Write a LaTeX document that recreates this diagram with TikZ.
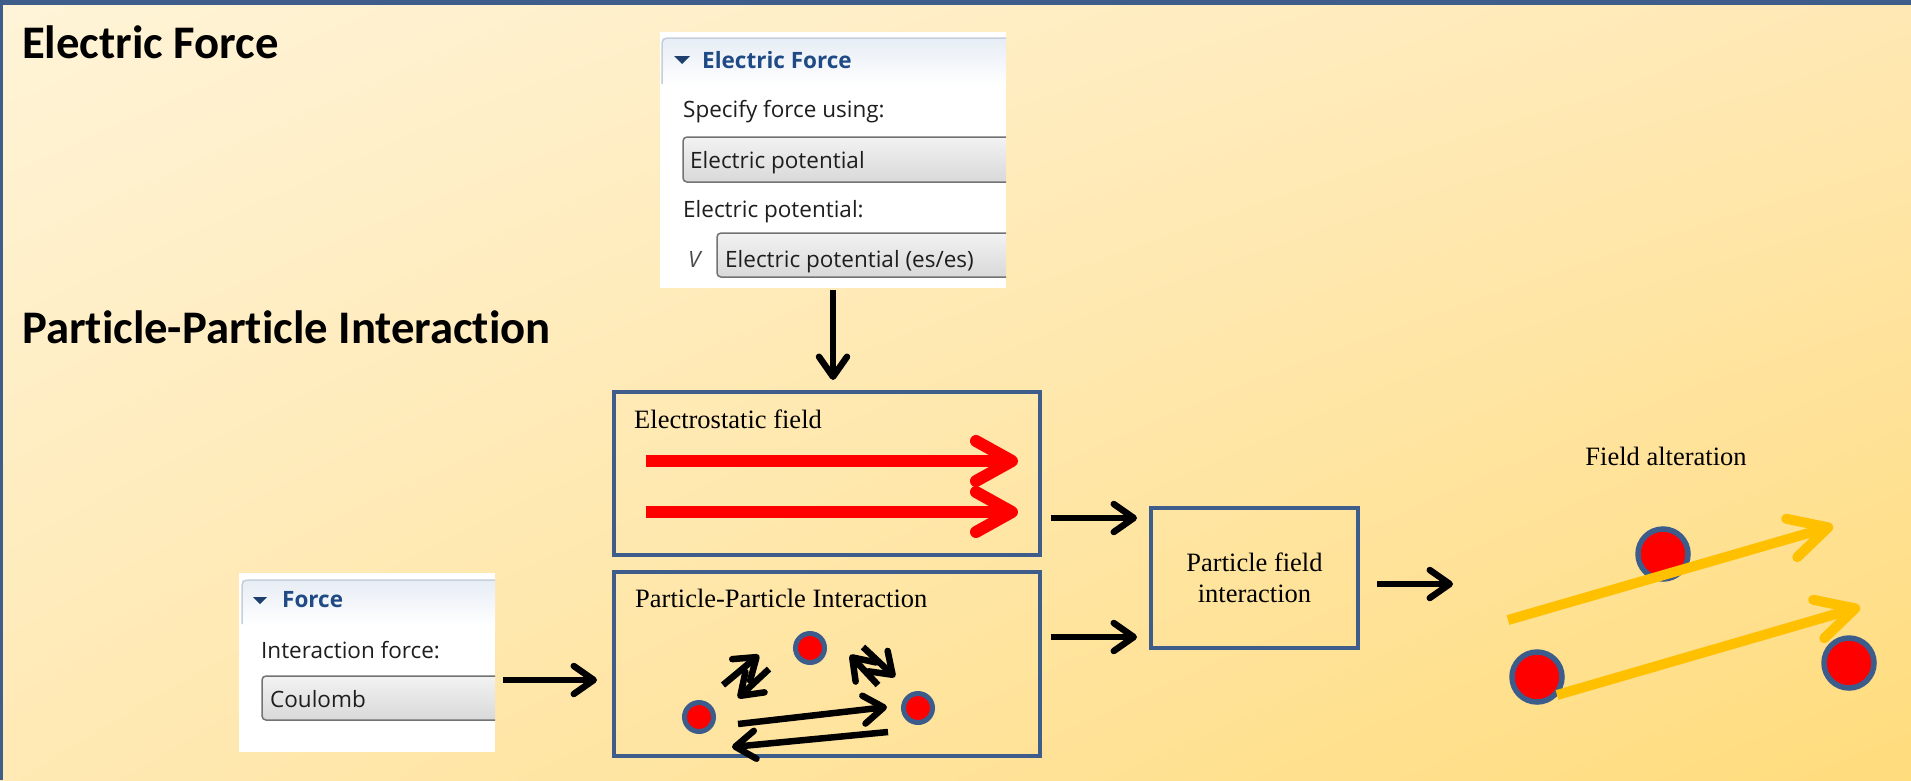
\documentclass[tikz,border=0pt]{standalone}
\usepackage{fontspec}
\setmainfont{Liberation Serif}
\newfontfamily\titlefont[Ligatures=NoCommon]{Carlito}
\newfontfamily\uifont{Open Sans}
\usetikzlibrary{arrows.meta, positioning, calc, shadings}

\definecolor{boxblue}{RGB}{62,93,138}
\definecolor{ringblue}{RGB}{60,92,140}
\definecolor{bgtl}{RGB}{255,244,216}
\definecolor{bgtr}{RGB}{255,232,180}
\definecolor{bgbl}{RGB}{255,233,180}
\definecolor{bgbr}{RGB}{255,220,124}
\definecolor{gold}{RGB}{255,192,0}
\definecolor{hdtop}{RGB}{231,237,245}
\definecolor{hdline}{RGB}{198,207,218}
\definecolor{hdtext}{RGB}{32,74,134}
\definecolor{hdtri}{RGB}{30,62,110}
\definecolor{uiblack}{RGB}{30,30,30}

\tikzset{
  titletext/.style={anchor=base west, inner sep=0, font={\titlefont\bfseries\fontsize{46.7}{56}\selectfont}},
  uipanel/.style={fill=white, inner sep=0, outer sep=0},
  uitext/.style={anchor=base west, inner sep=0, text=uiblack, font={\uifont\fontsize{22.5}{27}\selectfont}},
  uihead/.style={uitext, text=hdtext, font={\uifont\bfseries\fontsize{22.5}{27}\selectfont}},
  dropbox/.style={rounded corners=4, top color=white!95!black, bottom color=white!85!black, draw=black!55, line width=1.5},
  fieldbox/.style={draw=boxblue, line width=4, inner sep=0},
  boxtext/.style={anchor=base west, inner sep=0, font={\fontsize{26.5}{31}\selectfont}},
  particle/.style={circle, fill=red, draw=ringblue, line width=5, minimum size=29, inner sep=0},
  bigparticle/.style={particle, line width=5.5, minimum size=50},
  blkarrow/.style={line width=6.5, -{Straight Barb[length=20pt,width=28pt,round]}},
  redarrow/.style={draw=red, line width=12, -{Straight Barb[length=36pt,width=40pt,round]}},
  goldarrow/.style={draw=gold, line width=10, -{Straight Barb[length=38pt,width=40pt,round]}}
}

\begin{document}
\begin{tikzpicture}[x=1pt, y=-1pt]
    \useasboundingbox (0,0) rectangle (1911,780);
    % background
    \shade[upper left=bgtl, upper right=bgtr, lower left=bgbl, lower right=bgbr] (0,0) rectangle (1911,780);
    \fill[boxblue] (0,0) rectangle (1911,5);
    \fill[boxblue] (0,0) rectangle (3,780);

    \node[titletext] (eftitle) at (22,58) {Electric Force};
    \node[titletext] (ppititle) at (22,343) {Particle-Particle Interaction};

    % electric force panel
    \node[uipanel, minimum width=346, minimum height=256] (efpanel) at (833,160) {};
    \begin{scope}
        \clip (efpanel.north west) rectangle (efpanel.south east);
        \shade[top color=hdtop, bottom color=white] (662,38) rectangle (1010,86);
        \draw[hdline, line width=1.5, rounded corners=5] (662,84) -- (662,38) -- (1012,38);
        \fill[hdtri] (674,56) -- (690,56) -- (682,64) -- cycle;
        \node[uihead] (efhead) at (702,68) {Electric Force};
        \node[uitext] (efask) at (683,117) {Specify force using:};
        \shadedraw[dropbox] (683,137) rectangle (1020,182);
        \node[uitext] (efchoice) at (690,168) {Electric potential};
        \node[uitext] (efpot) at (683,217) {Electric potential:};
        \node[uitext, text=black!70, font={\uifont\itshape\fontsize{22.5}{27}\selectfont}] (efvar) at (688,267) {V};
        \shadedraw[dropbox] (717,233) rectangle (1020,277);
        \node[uitext] (efvalue) at (725,267) {Electric potential (es/es)};
    \end{scope}

    % force panel
    \node[uipanel, minimum width=256, minimum height=179] (forcepanel) at (367,662.5) {};
    \begin{scope}
        \clip (forcepanel.north west) rectangle (forcepanel.south east);
        \shade[top color=hdtop, bottom color=white] (242,580) rectangle (500,626);
        \draw[hdline, line width=1.5, rounded corners=5] (242,624) -- (242,580) -- (502,580);
        \fill[hdtri] (253,597) -- (267,597) -- (260,604) -- cycle;
        \node[uihead] (forcehead) at (282,607) {Force};
        \node[uitext] (forceask) at (261,658) {Interaction force:};
        \shadedraw[dropbox] (262,676) rectangle (510,720);
        \node[uitext] (forcevalue) at (270,707) {Coulomb};
    \end{scope}

    % boxes
    \node[fieldbox, minimum width=426, minimum height=163] (esbox) at (827,473.5) {};
    \node[boxtext] (eslabel) at (634,428) {Electrostatic field};
    \node[fieldbox, minimum width=426, minimum height=184] (ppibox) at (827,664) {};
    \node[boxtext] (ppilabel) at (635,607) {Particle-Particle Interaction};
    \node[fieldbox, minimum width=207, minimum height=140, align=center,
          font={\fontsize{26.5}{31}\selectfont}] (pfibox) at (1254.5,578) {Particle field\\interaction};

    % field lines
    \draw[redarrow] ([shift={(34,-12.5)}]esbox.west) -- ([shift={(-24,-12.5)}]esbox.east);
    \draw[redarrow] ([shift={(34,38.5)}]esbox.west) -- ([shift={(-24,38.5)}]esbox.east);

    % particles
    \node[particle] (pA) at (810,648) {};
    \node[particle] (pB) at (699,717) {};
    \node[particle] (pC) at (918,708) {};
    \draw[blkarrow] ([shift={(39,7)}]pB.center) -- ([shift={(-31,-1)}]pC.center);
    \draw[blkarrow] ([shift={(-30,24)}]pC.center) -- ([shift={(33,30)}]pB.center);
    \draw[blkarrow] ([shift={(24,-32)}]pB.center) -- ([shift={(-51,7)}]pA.center);
    \draw[blkarrow] ([shift={(-41,21)}]pA.center) -- ([shift={(39,-19)}]pB.center);
    \draw[blkarrow] ([shift={(53,-1)}]pA.center) -- ([shift={(-23,-31)}]pC.center);
    \draw[blkarrow] ([shift={(-40,-23)}]pC.center) -- ([shift={(40,7)}]pA.center);

    % field alteration
    \node[anchor=base, inner sep=0, font={\fontsize{26.5}{31}\selectfont}] (falabel) at (1666,465) {Field alteration};
    \node[bigparticle] (fa1) at (1663,554) {};
    \node[bigparticle] (fa2) at (1537,677) {};
    \node[bigparticle] (fa3) at (1849,663) {};
    \draw[goldarrow] ([shift={(-155,66)}]fa1.center) -- ([shift={(170,-28)}]fa1.center);
    \draw[goldarrow] ([shift={(20,18)}]fa2.center) -- ([shift={(11,-56)}]fa3.center);

    % connectors
    \coordinate (lvl1) at (0,518);
    \coordinate (lvl2) at (0,637);
    \coordinate (lvl3) at (0,584);
    \coordinate (lvl4) at (0,680);
    \coordinate (fain) at (1453,584);
    \draw[blkarrow, shorten <=2, shorten >=10] (efpanel.south) -- (efpanel.south |- esbox.north);
    \draw[blkarrow, shorten <=9, shorten >=12] (esbox.east |- lvl1) -- (pfibox.west |- lvl1);
    \draw[blkarrow, shorten <=9, shorten >=12] (ppibox.east |- lvl2) -- (pfibox.west |- lvl2);
    \draw[blkarrow, shorten <=17] (pfibox.east |- lvl3) -- (fain);
    \draw[blkarrow, shorten <=8, shorten >=15] (forcepanel.east |- lvl4) -- (ppibox.west |- lvl4);
\end{tikzpicture}
\end{document}
